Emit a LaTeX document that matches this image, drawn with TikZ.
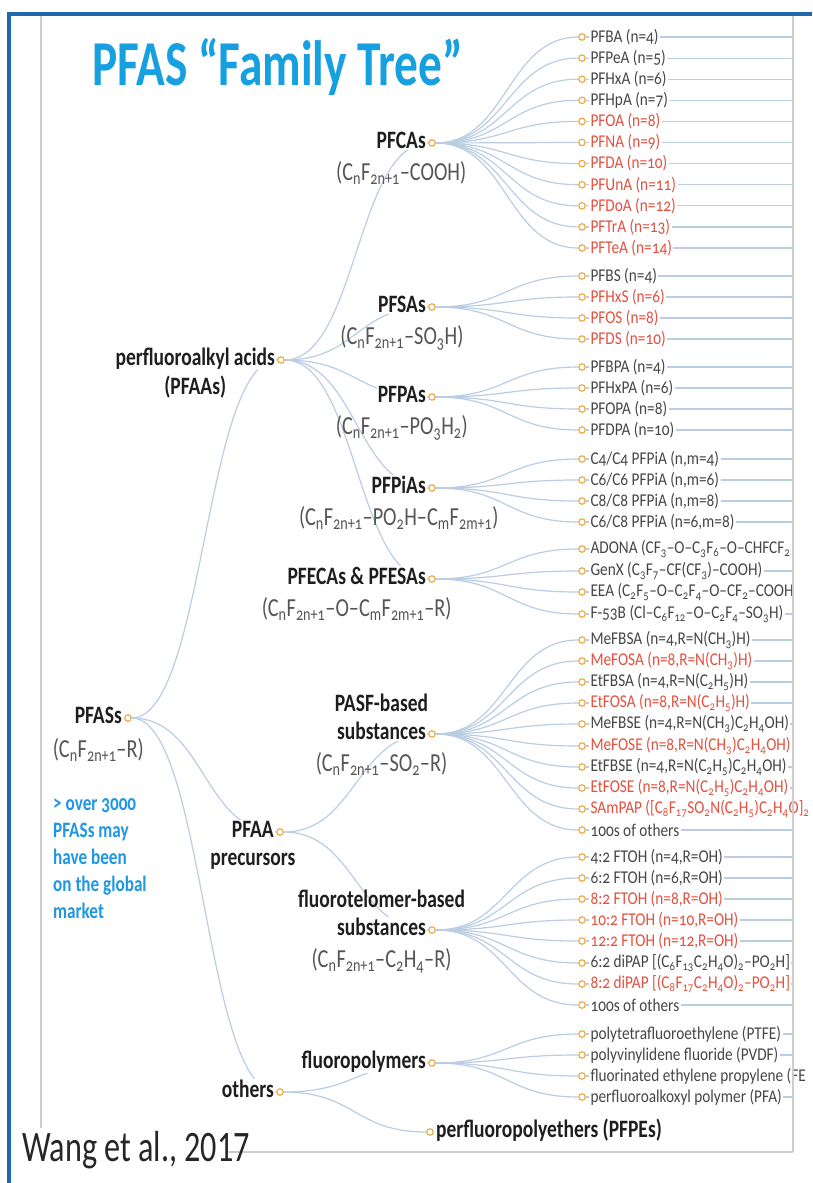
\documentclass[tikz,border=0pt]{standalone}
\usepackage{fontspec}
\setmainfont{Carlito}
\newfontfamily\treefont{Carlito}[FakeStretch=0.78,Numbers=OldStyle]
\newfontfamily\leaffont{Carlito}[FakeStretch=0.85,Numbers=OldStyle]
\newfontfamily\slidefont{Carlito}[FakeStretch=0.74]
\usetikzlibrary{calc}
\pgfdeclarelayer{bg}
\pgfsetlayers{bg,main}

\definecolor{linkblue}{RGB}{186,205,227}
\definecolor{dotorange}{RGB}{240,164,58}
\definecolor{leafgray}{RGB}{70,70,70}
\definecolor{leafred}{RGB}{228,80,62}
\definecolor{titleblue}{RGB}{22,160,224}
\definecolor{noteblue}{RGB}{30,150,228}
\definecolor{frameblue}{RGB}{32,104,172}
\definecolor{panelgray}{RGB}{205,205,205}
\definecolor{namecol}{RGB}{30,30,30}
\definecolor{formcol}{RGB}{85,85,85}

\newcommand\sbs[1]{\textsubscript{#1}}

\tikzset{
  dot/.style={circle,draw=dotorange,fill=white,line width=1.1pt,minimum size=6.5pt,inner sep=0pt},
  link/.style={draw=linkblue,line width=1.2pt,
    to path={let \p1=(\tikztostart),\p2=(\tikztotarget) in
      .. controls ({(\x1+\x2)/2},\y1) and ({(\x1+\x2)/2},\y2) .. (\tikztotarget)}},
  tail/.style={draw=linkblue,line width=1.2pt},
  grpname/.style={font=\treefont\bfseries\fontsize{25}{28}\selectfont,text=namecol,inner sep=1pt,fill=white},
  grpsub/.style={font=\treefont\bfseries\fontsize{25}{28}\selectfont,text=namecol,inner sep=0pt,anchor=base},
  formula/.style={font=\treefont\fontsize{26}{30}\selectfont,text=formcol,inner sep=0pt,anchor=base},
  leaftext/.style={font=\leaffont\fontsize{18}{20}\selectfont,text=leafgray,fill=white,inner sep=1.5pt,anchor=west},
  hot/.style={text=leafred},
  note/.style={font=\treefont\bfseries\fontsize{22}{27}\selectfont,text=noteblue,inner sep=0pt,anchor=base west},
}

% one leaf: parent, name, y, text style, text
\newcommand\leaf[5]{%
  \node[dot] (#2) at (582,#3) {};
  \node[leaftext,#4] (#2-t) at ([xshift=3pt]#2.east) {#5};
  \coordinate (#2-r) at (793,#3);
  \begin{pgfonlayer}{bg}
    \draw[link] (#1.east) to (#2.west);
    \draw[tail] (#2.east) -- (#2-r);
  \end{pgfonlayer}}

\begin{document}
\begin{tikzpicture}[x=1pt,y=-1pt]
\useasboundingbox (0,0) rectangle (812,1183);
\clip (0,0) rectangle (812,1183);

% title
\node[font=\slidefont\bfseries\fontsize{64}{72}\selectfont,text=titleblue,anchor=base west,inner sep=0pt]
  (title) at (92,85) {PFAS “Family Tree”};

% root
\node[dot] (root) at (128,718) {};
\node[grpname,anchor=base east] (root-n) at ($(root)+(-5,5.5)$) {PFASs};
\node[formula] (root-f) at ($(root-n.base)+(0,34)$) {(C\sbs{n}F\sbs{2n+1}–R)};

\node[note] (note1) at (53,810) {> over 3000};
\node[note] (note2) at (53,837) {PFASs may};
\node[note] (note3) at (53,864) {have been};
\node[note] (note4) at (53,891) {on the global};
\node[note] (note5) at (53,918) {market};

% first level
\node[dot] (pfaa) at (281,360) {};
\node[dot] (prec) at (280,832) {};
\node[dot] (oth) at (280,1092) {};

% second level
\node[dot] (pfca) at (432,143) {};
\node[dot] (pfsa) at (432,307) {};
\node[dot] (pfpa) at (432,397) {};
\node[dot] (pfpia) at (432,488) {};
\node[dot] (pfeca) at (432,579) {};
\node[dot] (pasf) at (432,734) {};
\node[dot] (ftel) at (432,930) {};
\node[dot] (fpol) at (432,1063) {};
\node[dot] (pfpe) at (430,1132) {};

\begin{pgfonlayer}{bg}
  \draw[link] (root.east) to (pfaa.west);
  \draw[link] (root.east) to (prec.west);
  \draw[link] (root.east) to (oth.west);
  \draw[link] (pfaa.east) to (pfca.west);
  \draw[link] (pfaa.east) to (pfsa.west);
  \draw[link] (pfaa.east) to (pfpa.west);
  \draw[link] (pfaa.east) to (pfpia.west);
  \draw[link] (pfaa.east) to (pfeca.west);
  \draw[link] (prec.east) to (pasf.west);
  \draw[link] (prec.east) to (ftel.west);
  \draw[link] (oth.east) to (fpol.west);
  \draw[link] (oth.east) to (pfpe.west);
\end{pgfonlayer}

% first level labels
\node[grpname,anchor=base east] (pfaa-n) at ($(pfaa)+(-5,5.5)$) {perfluoroalkyl acids};
\node[grpsub] (pfaa-s) at ($(pfaa-n.base)+(0,29)$) {(PFAAs)};
\node[grpname,anchor=base east] (prec-n) at ($(prec)+(-5,5.5)$) {PFAA};
\node[grpsub] (prec-s) at ($(prec-n.base)+(0,28)$) {precursors};
\node[grpname,anchor=base east] (oth-n) at ($(oth)+(-5,5.5)$) {others};

% second level labels
\node[grpname,anchor=base east] (pfca-n) at ($(pfca)+(-5,5.5)$) {PFCAs};
\node[formula] (pfca-f) at ($(pfca-n.base)+(0,32)$) {(C\sbs{n}F\sbs{2n+1}–COOH)};
\node[grpname,anchor=base east] (pfsa-n) at ($(pfsa)+(-5,5.5)$) {PFSAs};
\node[formula] (pfsa-f) at ($(pfsa-n.base)+(0,32)$) {(C\sbs{n}F\sbs{2n+1}–SO\sbs{3}H)};
\node[grpname,anchor=base east] (pfpa-n) at ($(pfpa)+(-5,5.5)$) {PFPAs};
\node[formula] (pfpa-f) at ($(pfpa-n.base)+(0,32)$) {(C\sbs{n}F\sbs{2n+1}–PO\sbs{3}H\sbs{2})};
\node[grpname,anchor=base east] (pfpia-n) at ($(pfpia)+(-5,5.5)$) {PFPiAs};
\node[formula] (pfpia-f) at ($(pfpia-n.base)+(0,32)$) {(C\sbs{n}F\sbs{2n+1}–PO\sbs{2}H–C\sbs{m}F\sbs{2m+1})};
\node[grpname,anchor=base east] (pfeca-n) at ($(pfeca)+(-5,5.5)$) {PFECAs \& PFESAs};
\node[formula] (pfeca-f) at ($(pfeca-n.base)+(0,32)$) {(C\sbs{n}F\sbs{2n+1}–O–C\sbs{m}F\sbs{2m+1}–R)};
\node[grpname,anchor=base east] (pasf-n) at ($(pasf)+(-5,5.5)$) {substances};
\node[grpsub] (pasf-s) at ($(pasf-n.base)+(0,-28)$) {PASF-based};
\node[formula] (pasf-f) at ($(pasf-n.base)+(0,32)$) {(C\sbs{n}F\sbs{2n+1}–SO\sbs{2}–R)};
\node[grpname,anchor=base east] (ftel-n) at ($(ftel)+(-5,5.5)$) {substances};
\node[grpsub] (ftel-s) at ($(ftel-n.base)+(0,-28)$) {fluorotelomer-based};
\node[formula] (ftel-f) at ($(ftel-n.base)+(0,32)$) {(C\sbs{n}F\sbs{2n+1}–C\sbs{2}H\sbs{4}–R)};
\node[grpname,anchor=base east] (fpol-n) at ($(fpol)+(-5,5.5)$) {fluoropolymers};
\node[grpname,anchor=base west] (pfpe-n) at ($(pfpe)+(5,5.5)$) {perfluoropolyethers (PFPEs)};

% PFCAs
\leaf{pfca}{a1}{37}{}{PFBA (n=4)}
\leaf{pfca}{a2}{58.1}{}{PFPeA (n=5)}
\leaf{pfca}{a3}{79.2}{}{PFHxA (n=6)}
\leaf{pfca}{a4}{100.3}{}{PFHpA (n=7)}
\leaf{pfca}{a5}{121.4}{hot}{PFOA (n=8)}
\leaf{pfca}{a6}{142.5}{hot}{PFNA (n=9)}
\leaf{pfca}{a7}{163.6}{hot}{PFDA (n=10)}
\leaf{pfca}{a8}{184.7}{hot}{PFUnA (n=11)}
\leaf{pfca}{a9}{205.8}{hot}{PFDoA (n=12)}
\leaf{pfca}{a10}{226.9}{hot}{PFTrA (n=13)}
\leaf{pfca}{a11}{248}{hot}{PFTeA (n=14)}
% PFSAs
\leaf{pfsa}{b1}{276}{}{PFBS (n=4)}
\leaf{pfsa}{b2}{297}{hot}{PFHxS (n=6)}
\leaf{pfsa}{b3}{318}{hot}{PFOS (n=8)}
\leaf{pfsa}{b4}{339}{hot}{PFDS (n=10)}
% PFPAs
\leaf{pfpa}{c1}{367}{}{PFBPA (n=4)}
\leaf{pfpa}{c2}{388}{}{PFHxPA (n=6)}
\leaf{pfpa}{c3}{409}{}{PFOPA (n=8)}
\leaf{pfpa}{c4}{430}{}{PFDPA (n=10)}
% PFPiAs
\leaf{pfpia}{d1}{459}{}{C4/C4 PFPiA (n,m=4)}
\leaf{pfpia}{d2}{480}{}{C6/C6 PFPiA (n,m=6)}
\leaf{pfpia}{d3}{501}{}{C8/C8 PFPiA (n,m=8)}
\leaf{pfpia}{d4}{522}{}{C6/C8 PFPiA (n=6,m=8)}
% PFECAs & PFESAs
\leaf{pfeca}{e1}{549}{}{ADONA (CF\sbs{3}–O–C\sbs{3}F\sbs{6}–O–CHFCF\sbs{2}}
\leaf{pfeca}{e2}{571}{}{GenX (C\sbs{3}F\sbs{7}–CF(CF\sbs{3})–COOH)}
\leaf{pfeca}{e3}{592}{}{EEA (C\sbs{2}F\sbs{5}–O–C\sbs{2}F\sbs{4}–O–CF\sbs{2}–COOH}
\leaf{pfeca}{e4}{614}{}{F-53B (Cl–C\sbs{6}F\sbs{12}–O–C\sbs{2}F\sbs{4}–SO\sbs{3}H)}
% PASF-based substances
\leaf{pasf}{f1}{640}{}{MeFBSA (n=4,R=N(CH\sbs{3})H)}
\leaf{pasf}{f2}{661}{hot}{MeFOSA (n=8,R=N(CH\sbs{3})H)}
\leaf{pasf}{f3}{682}{}{EtFBSA (n=4,R=N(C\sbs{2}H\sbs{5})H)}
\leaf{pasf}{f4}{703}{hot}{EtFOSA (n=8,R=N(C\sbs{2}H\sbs{5})H)}
\leaf{pasf}{f5}{724}{}{MeFBSE (n=4,R=N(CH\sbs{3})C\sbs{2}H\sbs{4}OH)}
\leaf{pasf}{f6}{746}{hot}{MeFOSE (n=8,R=N(CH\sbs{3})C\sbs{2}H\sbs{4}OH)}
\leaf{pasf}{f7}{767}{}{EtFBSE (n=4,R=N(C\sbs{2}H\sbs{5})C\sbs{2}H\sbs{4}OH)}
\leaf{pasf}{f8}{788}{hot}{EtFOSE (n=8,R=N(C\sbs{2}H\sbs{5})C\sbs{2}H\sbs{4}OH)}
\leaf{pasf}{f9}{809}{hot}{SAmPAP ([C\sbs{8}F\sbs{17}SO\sbs{2}N(C\sbs{2}H\sbs{5})C\sbs{2}H\sbs{4}O]\sbs{2}}
\leaf{pasf}{f10}{830}{}{100s of others}
% fluorotelomer-based substances
\leaf{ftel}{g1}{857}{}{4:2 FTOH (n=4,R=OH)}
\leaf{ftel}{g2}{878}{}{6:2 FTOH (n=6,R=OH)}
\leaf{ftel}{g3}{899}{hot}{8:2 FTOH (n=8,R=OH)}
\leaf{ftel}{g4}{920}{hot}{10:2 FTOH (n=10,R=OH)}
\leaf{ftel}{g5}{941}{hot}{12:2 FTOH (n=12,R=OH)}
\leaf{ftel}{g6}{963}{}{6:2 diPAP [(C\sbs{6}F\sbs{13}C\sbs{2}H\sbs{4}O)\sbs{2}–PO\sbs{2}H]}
\leaf{ftel}{g7}{984}{hot}{8:2 diPAP [(C\sbs{8}F\sbs{17}C\sbs{2}H\sbs{4}O)\sbs{2}–PO\sbs{2}H]}
\leaf{ftel}{g8}{1005}{}{100s of others}
% fluoropolymers
\leaf{fpol}{h1}{1034}{}{polytetrafluoroethylene (PTFE)}
\leaf{fpol}{h2}{1055}{}{polyvinylidene fluoride (PVDF)}
\leaf{fpol}{h3}{1076}{}{fluorinated ethylene propylene (FE}
\leaf{fpol}{h4}{1097}{}{perfluoroalkoxyl polymer (PFA)}

% frame
\draw[panelgray,line width=1.2pt] (41,15.5) -- (41,1128);
\draw[panelgray,line width=1.2pt] (793,15.5) -- (793,1152);
\draw[panelgray,line width=1.2pt] (228,1152) -- (793,1152);
\draw[frameblue,line width=4pt] (9,11.5) -- (9,1183);
\draw[frameblue,line width=4pt] (7,13.5) -- (812,13.5);

\node[font=\slidefont\fontsize{43.5}{48}\selectfont,text=black!85,anchor=base west,inner sep=0pt]
  (cite) at (22,1161) {Wang et al., 2017};
\end{tikzpicture}
\end{document}
